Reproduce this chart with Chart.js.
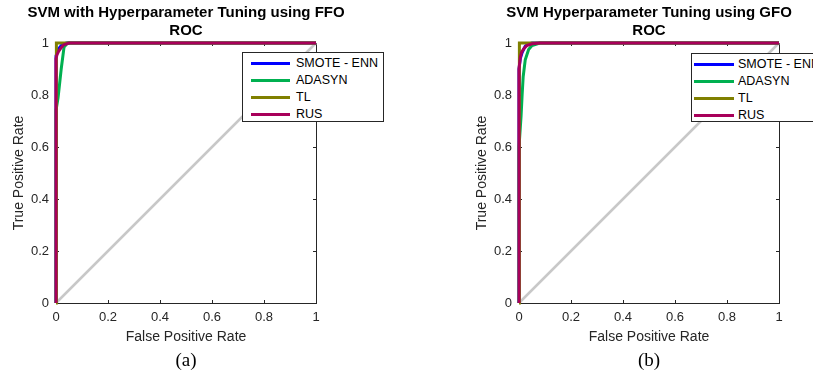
<!DOCTYPE html>
<html>
<head>
<meta charset="utf-8">
<script src="https://cdn.jsdelivr.net/npm/chart.js@4.4.1/dist/chart.umd.min.js"></script>
<style>
  html, body { margin: 0; padding: 0; background: #fff; overflow: hidden; }
  body { width: 813px; height: 376px; position: relative; }
  canvas { position: absolute; top: 0; }
  .legend { position: absolute; box-sizing: border-box; border: 1px solid #262626; background: #fff;
            font: 12.5px "Liberation Sans", Arial, sans-serif; color: #000; white-space: nowrap; }
  .legend .sw { position: absolute; height: 3px; }
  .legend .tx { position: absolute; line-height: 14px; }
</style>
</head>
<body>
<canvas id="rocA" width="406" height="376" style="left:0px"></canvas>
<canvas id="rocB" width="350" height="376" style="left:463px"></canvas>
<div id="legA" class="legend" style="left:242px;top:52px;width:142px;height:70px"></div>
<div id="legB" class="legend" style="left:691px;top:53px;width:140px;height:69px"></div>
<script>
// series names / colours (same for both panels)
var seriesNames = ['SMOTE - ENN', 'ADASYN', 'TL', 'RUS'];
var seriesColors = ['#0000FF', '#00B050', '#808000', '#A8005A'];

var titleA = ['SVM with Hyperparameter Tuning using FFO', 'ROC'];
var titleB = ['SVM Hyperparameter Tuning using GFO', 'ROC'];
var captionA = '(a)';
var captionB = '(b)';
var xTitle = 'False Positive Rate';
var yTitle = 'True Positive Rate';

// chance line
var diagFpr = [0, 1];
var diagTpr = [0, 1];

// (a) FFO
var smoteFprA = [0, 0, 0.005, 0.01, 0.02, 0.03, 0.04, 1];
var smoteTprA = [0, 0.95, 0.965, 0.978, 0.99, 0.997, 1, 1];
var adasynFprA = [0, 0, 0.008, 0.02, 0.031, 0.045, 1];
var adasynTprA = [0, 0.74, 0.79, 0.9, 0.985, 1, 1];
var tlFprA = [0, 0, 0.003, 1];
var tlTprA = [0, 0.985, 1, 1];
var rusFprA = [0, 0, 0.004, 0.01, 0.02, 0.03, 0.05, 1];
var rusTprA = [0, 0.94, 0.955, 0.968, 0.982, 0.993, 1, 1];

// (b) GFO
var smoteFprB = [0, 0, 0.005, 0.012, 0.024, 0.035, 0.05, 1];
var smoteTprB = [0, 0.9, 0.94, 0.963, 0.988, 0.996, 1, 1];
var adasynFprB = [0, 0, 0.008, 0.012, 0.016, 0.024, 0.037, 0.05, 0.08, 1];
var adasynTprB = [0, 0.6, 0.72, 0.8, 0.87, 0.935, 0.975, 0.99, 1, 1];
var tlFprB = [0, 0, 0.003, 1];
var tlTprB = [0, 0.995, 1, 1];
var rusFprB = [0, 0, 0.005, 0.01, 0.02, 0.03, 0.05, 0.08, 1];
var rusTprB = [0, 0.9, 0.945, 0.965, 0.98, 0.99, 0.997, 1, 1];

var axisTicks = [0, 0.2, 0.4, 0.6, 0.8, 1];

function toPoints(xs, ys) {
    var pts = [];
    for (var i = 0; i < xs.length; i++) pts.push({ x: xs[i], y: ys[i] });
    return pts;
}

function makeDataset(label, color, xs, ys, width, order) {
    return {
        label: label,
        data: toPoints(xs, ys),
        borderColor: color,
        backgroundColor: color,
        borderWidth: width,
        pointRadius: 0,
        tension: 0,
        fill: false,
        clip: false,
        order: order
    };
}

// MATLAB-like box, inward ticks, titles and caption
var axesDecor = {
    id: 'axesDecor',
    beforeDatasetsDraw: function (chart) {
        var ctx = chart.ctx, a = chart.chartArea;
        var xs = chart.scales.x, ys = chart.scales.y;
        ctx.save();
        ctx.strokeStyle = '#262626';
        ctx.lineWidth = 1;
        ctx.beginPath();
        ctx.moveTo(a.left, a.top + 0.5);
        ctx.lineTo(a.right + 0.5, a.top + 0.5);
        ctx.lineTo(a.right + 0.5, a.bottom);
        xs.ticks.forEach(function (t) {
            var px = Math.round(xs.getPixelForValue(t.value)) + 0.5;
            ctx.moveTo(px, a.bottom); ctx.lineTo(px, a.bottom - 3);
            ctx.moveTo(px, a.top); ctx.lineTo(px, a.top + 3);
        });
        ys.ticks.forEach(function (t) {
            var py = Math.round(ys.getPixelForValue(t.value)) + 0.5;
            ctx.moveTo(a.left, py); ctx.lineTo(a.left + 3, py);
            ctx.moveTo(a.right, py); ctx.lineTo(a.right - 3, py);
        });
        ctx.stroke();
        ctx.restore();
    },
    afterDraw: function (chart, args, opts) {
        var ctx = chart.ctx, a = chart.chartArea;
        var cx = (a.left + a.right) / 2;
        ctx.save();
        ctx.fillStyle = '#000';
        ctx.textAlign = 'center';
        ctx.textBaseline = 'middle';
        ctx.font = 'bold 15px "Liberation Sans", Arial, sans-serif';
        ctx.fillText(opts.title[0], cx, 13);
        ctx.fillText(opts.title[1], cx, 31);
        ctx.font = '19px "Liberation Serif", "Times New Roman", serif';
        ctx.fillText(opts.caption, cx, 361);
        ctx.restore();
    }
};

function tickText(v) {
    return String(+Number(v).toFixed(2));
}

function CreateRocChart(canvasId, padRight, title, caption, series) {
    // diagonal drawn first, RUS last (on top)
    var datasets = [makeDataset('diag', '#C8C8C8', diagFpr, diagTpr, 2.5, 10)];
    for (var i = 0; i < series.length; i++) {
        datasets.push(makeDataset(seriesNames[i], seriesColors[i], series[i][0], series[i][1], 3, series.length - i));
    }
    var axisFont = { family: '"Liberation Sans", Arial, sans-serif', size: 13 };
    var titleFont = { family: '"Liberation Sans", Arial, sans-serif', size: 14 };
    return new Chart(document.getElementById(canvasId), {
        type: 'line',
        data: { datasets: datasets },
        plugins: [axesDecor],
        options: {
            responsive: false,
            animation: false,
            layout: { padding: { left: 0, top: 43, right: padRight, bottom: 0 } },
            plugins: {
                legend: { display: false },
                tooltip: { enabled: false },
                axesDecor: { title: title, caption: caption }
            },
            scales: {
                x: {
                    type: 'linear', min: 0, max: 1,
                    afterBuildTicks: function (s) { s.ticks = axisTicks.map(function (v) { return { value: v }; }); },
                    grid: { drawOnChartArea: false, drawTicks: false },
                    border: { display: true, color: '#262626', width: 1 },
                    ticks: { color: '#262626', font: axisFont, padding: 7, maxRotation: 0, callback: tickText },
                    title: { display: true, text: xTitle, color: '#262626', font: titleFont, padding: { top: 0, bottom: 30 } },
                    afterFit: function (s) { s.height = 73; }
                },
                y: {
                    type: 'linear', min: 0, max: 1,
                    afterBuildTicks: function (s) { s.ticks = axisTicks.map(function (v) { return { value: v }; }); },
                    grid: { drawOnChartArea: false, drawTicks: false },
                    border: { display: true, color: '#262626', width: 1 },
                    ticks: { color: '#262626', font: axisFont, padding: 7, callback: tickText },
                    title: { display: true, text: yTitle, color: '#262626', font: titleFont, padding: { top: 11, bottom: 0 } },
                    afterFit: function (s) { s.width = 56; }
                }
            }
        }
    });
}

function BuildLegend(chart, elId, lineLeft, lineLen, textLeft) {
    var el = document.getElementById(elId);
    var rowTop = 10, rowStep = 17;
    chart.data.datasets.slice(1).forEach(function (ds, i) {
        var cy = rowTop + i * rowStep;
        var sw = document.createElement('div');
        sw.className = 'sw';
        sw.style.left = lineLeft + 'px';
        sw.style.width = lineLen + 'px';
        sw.style.top = (cy - 1.5) + 'px';
        sw.style.background = ds.borderColor;
        var tx = document.createElement('div');
        tx.className = 'tx';
        tx.style.left = textLeft + 'px';
        tx.style.top = (cy - 7) + 'px';
        tx.textContent = ds.label;
        el.appendChild(sw);
        el.appendChild(tx);
    });
}

var rocA = CreateRocChart('rocA', 90, titleA, captionA, [
    [smoteFprA, smoteTprA], [adasynFprA, adasynTprA], [tlFprA, tlTprA], [rusFprA, rusTprA]
]);
var rocB = CreateRocChart('rocB', 34, titleB, captionB, [
    [smoteFprB, smoteTprB], [adasynFprB, adasynTprB], [tlFprB, tlTprB], [rusFprB, rusTprB]
]);
BuildLegend(rocA, 'legA', 8, 39, 53);
BuildLegend(rocB, 'legB', 2, 40, 46);
</script>
</body>
</html>
